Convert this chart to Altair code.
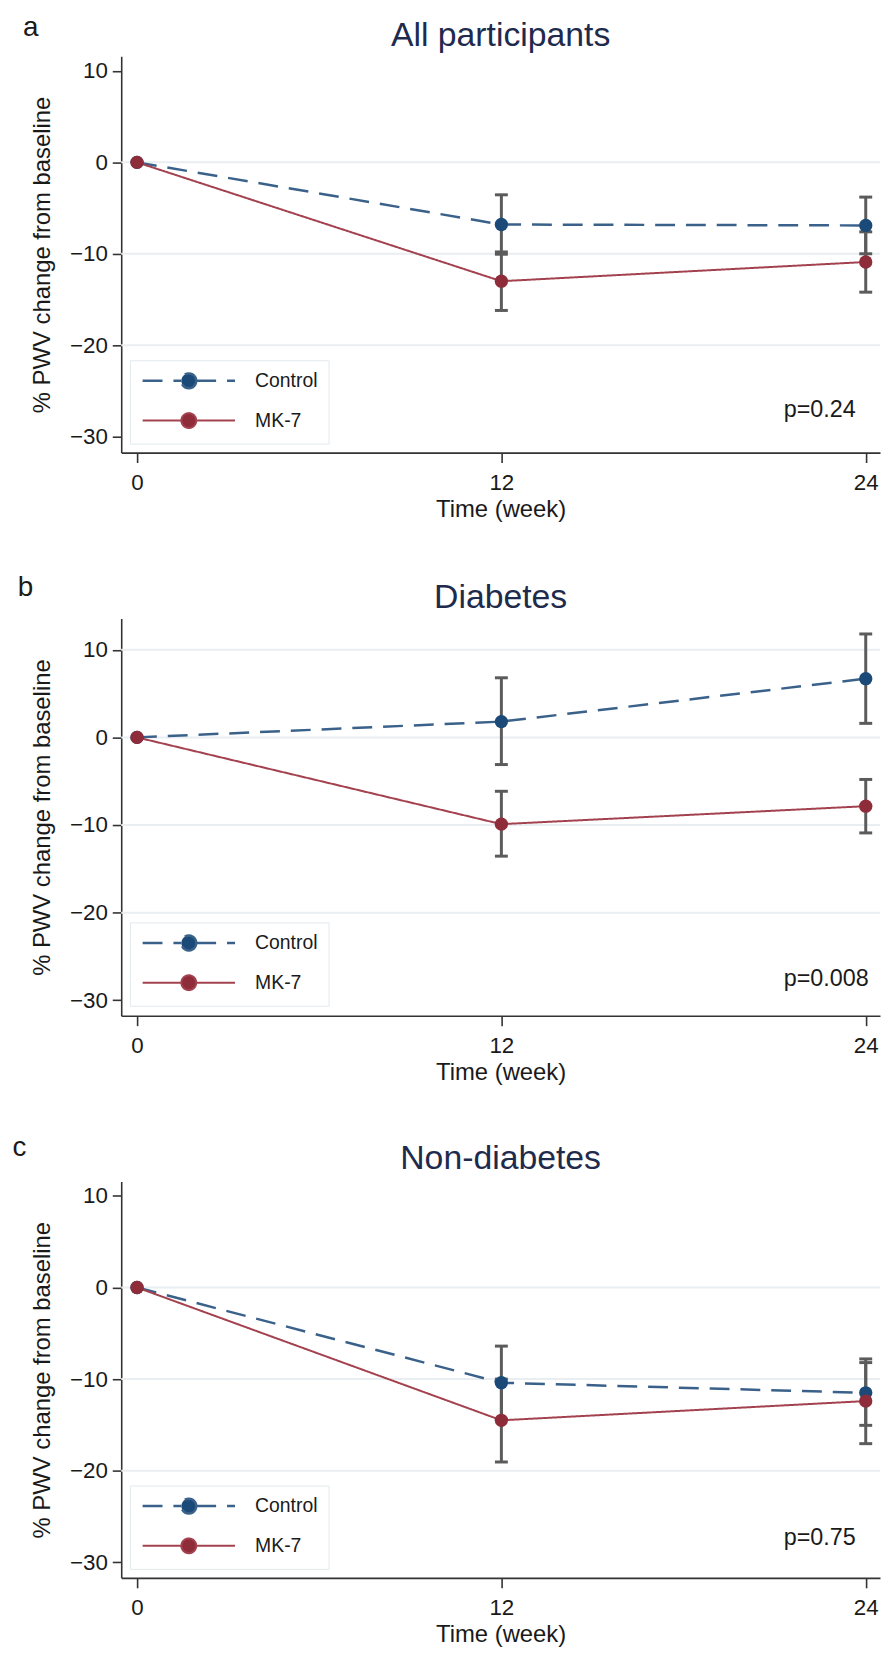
import math
import altair as alt
import pandas as pd

# ---------------- data ----------------
weeks = [0, 12, 24]
err_weeks = [12, 24]
series_names = ["Control", "MK-7"]

panel_titles = ["All participants", "Diabetes", "Non-diabetes"]
panel_letters = ["a", "b", "c"]
p_labels = ["p=0.24", "p=0.008", "p=0.75"]

# panel a: all participants
ctrl_a = [0.0, -6.8, -6.9]
ctrl_a_lo = [-10.05, -10.0]
ctrl_a_hi = [-3.55, -3.8]
mk7_a = [0.0, -13.0, -10.9]
mk7_a_lo = [-16.2, -14.2]
mk7_a_hi = [-9.8, -7.6]

# panel b: diabetes
ctrl_b = [0.0, 1.8, 6.7]
ctrl_b_lo = [-3.1, 1.6]
ctrl_b_hi = [6.8, 11.8]
mk7_b = [0.0, -9.9, -7.85]
mk7_b_lo = [-13.55, -10.9]
mk7_b_hi = [-6.15, -4.8]

# panel c: non-diabetes
ctrl_c = [0.0, -10.4, -11.5]
ctrl_c_lo = [-14.4, -15.05]
ctrl_c_hi = [-6.4, -7.8]
mk7_c = [0.0, -14.5, -12.4]
mk7_c_lo = [-19.05, -17.05]
mk7_c_hi = [-10.0, -8.2]

y_ticks = [-30, -20, -10, 0, 10]
x_ticks = [0, 12, 24]
grid_a = [0, -10, -20]
grid_b = [10, 0, -10, -20]
grid_c = [0, -10, -20]

# ---------------- layout / style ----------------
FONT = "Liberation Sans"
PLOT_W = 764
panel_heights = [399, 400, 399]
y_domains = [[-31.75, 11.6], [-31.76, 13.57], [-31.7, 11.56]]
x_domain = [-0.52, 24.47]
title_baselines = [-10.5, -10.6, -13]
letter_pos = [(-99, -20.3), (-104.2, -22.8), (-109.4, -25.3)]
p_pos = [(21.3, -27.1), (21.3, -27.6), (21.3, -27.3)]

line_colors = ["#3a6189", "#a3414f"]
marker_colors = ["#1b4a78", "#8e2c3a"]
ERR_COLOR = "#5b5b5b"
GRID_COLOR = "#e8eef1"
TITLE_COLOR = "#1f2b4d"
TEXT_COLOR = "#1a1a1a"

YTITLE = "% PWV change from baseline"
XTITLE = "Time (week)"

# legend symbol: a line with a filled dot in the middle.
# symbolSize 225 -> one path unit = 7.5 px; line is 93 px long, dot 15 px wide.
_r = 1.0
_half = 6.2
_circle = "".join(
    ("M" if k == 0 else "L")
    + f"{_r * math.cos(2 * math.pi * k / 24):.4f},{_r * math.sin(2 * math.pi * k / 24):.4f}"
    for k in range(24)
) + "Z"
LEGEND_PATH = f"M{-_half},0L{-_r},0M{_r},0L{_half},0" + _circle


def make_panel(i, means, errs, grid_vals):
    ctrl, mk7 = means
    (clo, chi), (mlo, mhi) = errs
    df = pd.DataFrame({
        "week": weeks + weeks,
        "value": ctrl + mk7,
        "series": ["Control"] * 3 + ["MK-7"] * 3,
    })
    df_err = pd.DataFrame({
        "week": err_weeks + err_weeks,
        "lo": clo + mlo,
        "hi": chi + mhi,
        "series": ["Control"] * 2 + ["MK-7"] * 2,
    })
    df_grid = pd.DataFrame({"value": grid_vals})
    df_p = pd.DataFrame({"week": [p_pos[i][0]], "value": [p_pos[i][1]],
                         "label": [p_labels[i]]})
    df_letter = pd.DataFrame({"label": [panel_letters[i]]})
    df_title = pd.DataFrame({"label": [panel_titles[i]]})

    xs = alt.Scale(domain=x_domain, nice=False, zero=False)
    ys = alt.Scale(domain=y_domains[i], nice=False, zero=False)
    xax = alt.Axis(values=x_ticks, tickSize=10, labelPadding=9, titlePadding=4,
                   labelFlush=False, labelOverlap=False, grid=False)
    yax = alt.Axis(values=y_ticks, tickSize=9, labelPadding=5, titlePadding=15,
                   labelOverlap=False, grid=False)

    def X(field):
        return alt.X(field, type="quantitative", scale=xs, axis=xax, title=XTITLE)

    def Y(field):
        return alt.Y(field, type="quantitative", scale=ys, axis=yax, title=YTITLE)

    leg = alt.Legend(
        title=None, orient="none", legendX=8.8, legendY=306,
        symbolType=LEGEND_PATH, symbolSize=225, symbolStrokeWidth=2.2,
        symbolOffset=38.5,
        labelFont=FONT, labelFontSize=19.5, labelColor=TEXT_COLOR,
        labelOffset=57, padding=11, rowPadding=15,
        strokeColor="#e3eaed", fillColor="white", cornerRadius=0,
    )

    grid = alt.Chart(df_grid).mark_rule(color=GRID_COLOR, strokeWidth=2).encode(
        y=Y("value")
    )
    err = alt.Chart(df_err).mark_rule(color=ERR_COLOR, strokeWidth=3).encode(
        x=X("week"), y=Y("lo"), y2="hi"
    )
    cap_lo = alt.Chart(df_err).mark_tick(color=ERR_COLOR, thickness=3, size=13,
                                         orient="horizontal", opacity=1).encode(
        x=X("week"), y=Y("lo")
    )
    cap_hi = alt.Chart(df_err).mark_tick(color=ERR_COLOR, thickness=3, size=13,
                                         orient="horizontal", opacity=1).encode(
        x=X("week"), y=Y("hi")
    )
    lines = alt.Chart(df).mark_line().encode(
        x=X("week"), y=Y("value"),
        stroke=alt.Stroke("series:N",
                          scale=alt.Scale(domain=series_names, range=line_colors),
                          legend=leg),
        strokeDash=alt.StrokeDash("series:N",
                                  scale=alt.Scale(domain=series_names,
                                                  range=[[20, 11], [1, 0]]),
                                  legend=leg),
        strokeWidth=alt.StrokeWidth("series:N",
                                    scale=alt.Scale(domain=series_names,
                                                    range=[2.5, 2]),
                                    legend=None),
    )
    points = alt.Chart(df).mark_point(filled=True, size=180, opacity=1,
                                      strokeWidth=0).encode(
        x=X("week"), y=Y("value"),
        fill=alt.Fill("series:N",
                      scale=alt.Scale(domain=series_names, range=marker_colors),
                      legend=leg),
    )
    ptext = alt.Chart(df_p).mark_text(align="left", baseline="middle",
                                      font=FONT, fontSize=23.5,
                                      color=TEXT_COLOR).encode(
        x=X("week"), y=Y("value"), text="label:N"
    )
    letter = alt.Chart(df_letter).mark_text(align="left", baseline="alphabetic",
                                            font=FONT, fontSize=28,
                                            color=TEXT_COLOR).encode(
        x=alt.value(letter_pos[i][0]), y=alt.value(letter_pos[i][1]),
        text="label:N"
    )
    title = alt.Chart(df_title).mark_text(align="center", baseline="alphabetic",
                                          font=FONT, fontSize=34,
                                          color=TITLE_COLOR).encode(
        x=alt.value(PLOT_W / 2), y=alt.value(title_baselines[i]),
        text="label:N"
    )
    return alt.layer(grid, err, cap_lo, cap_hi, lines, points, ptext, letter,
                     title).properties(width=PLOT_W, height=panel_heights[i])


pa = make_panel(0, (ctrl_a, mk7_a), ((ctrl_a_lo, ctrl_a_hi), (mk7_a_lo, mk7_a_hi)), grid_a)
pb = make_panel(1, (ctrl_b, mk7_b), ((ctrl_b_lo, ctrl_b_hi), (mk7_b_lo, mk7_b_hi)), grid_b)
pc = make_panel(2, (ctrl_c, mk7_c), ((ctrl_c_lo, ctrl_c_hi), (mk7_c_lo, mk7_c_hi)), grid_c)

chart = alt.vconcat(pa, pb, pc, spacing=167, bounds="flush").resolve_scale(
    x="independent", y="independent", stroke="independent",
    strokeDash="independent", fill="independent", strokeWidth="independent"
).resolve_legend(
    stroke="independent", strokeDash="independent", fill="independent"
).properties(
    padding={"left": 4, "top": 0, "right": 0, "bottom": 0}
).configure_view(stroke=None).configure_axis(
    domainColor="#333333", domainWidth=1.6, tickColor="#333333", tickWidth=1.6,
    labelFont=FONT, labelFontSize=22.5, labelColor=TEXT_COLOR,
    titleFont=FONT, titleFontSize=24, titleColor=TEXT_COLOR,
    titleFontWeight="normal",
)

chart.save("out.html", embed_options={"renderer": "svg", "actions": False})
